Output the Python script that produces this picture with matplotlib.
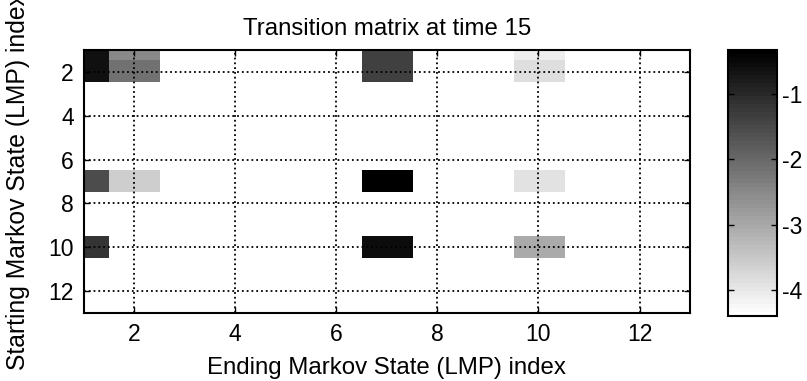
import matplotlib
matplotlib.use('Agg')
import matplotlib.pyplot as plt
import numpy as np

matplotlib.rcParams['font.family'] = 'Liberation Sans'
matplotlib.rcParams['font.size'] = 16.5
matplotlib.rcParams['axes.unicode_minus'] = False

# log10 transition probabilities (non-zero entries only)
start_states = [1, 2, 1, 2, 1, 2, 1, 2, 7, 7, 7, 7, 10, 10, 10]
end_states = [1, 1, 2, 2, 7, 7, 10, 10, 1, 2, 7, 10, 1, 7, 10]
log_prob = [-0.60, -0.60, -2.50, -2.12, -1.41, -1.41, -4.13, -3.84,
            -1.56, -3.60, -0.33, -3.95, -1.22, -0.54, -3.01]
n_states = 12
log_floor = -4.40
x_ticks = [2, 4, 6, 8, 10, 12]
y_ticks = [2, 4, 6, 8, 10, 12]
cbar_ticks = [-4, -3, -2, -1]

P = np.full((n_states, n_states), log_floor)
for r, c, v in zip(start_states, end_states, log_prob):
    P[r - 1, c - 1] = v

fig = plt.figure(figsize=(8.07, 3.81), dpi=100)
ax = fig.add_axes([0.1035, 0.1785, 0.7516, 0.6903])

cmap = plt.get_cmap('gray_r', 64)
im = ax.imshow(P, cmap=cmap, vmin=log_floor, vmax=max(log_prob),
               interpolation='nearest', aspect='auto',
               extent=(0.5, n_states + 0.5, n_states + 0.5, 0.5))
ax.set_xlim(1, 13)
ax.set_ylim(13, 1)
ax.set_xticks(x_ticks)
ax.set_yticks(y_ticks)
ax.grid(True, color='k', linestyle=':', linewidth=1.3)
ax.tick_params(direction='in', top=True, right=True, length=4, width=1,
               pad=7)
for s in ax.spines.values():
    s.set_linewidth(1.5)

ax.set_title('Transition matrix at time 15', fontsize=17.3, pad=11)
ax.set_xlabel('Ending Markov State (LMP) index', fontsize=17.3, labelpad=8)
ax.set_ylabel('Starting Markov State (LMP) index', fontsize=17.8,
              labelpad=13)

cax = fig.add_axes([0.902, 0.1706, 0.0607, 0.698])
cb = fig.colorbar(im, cax=cax)
cb.set_ticks(cbar_ticks)
cb.ax.tick_params(direction='in', left=True, right=True, length=4, width=1,
                  pad=4)
cb.outline.set_linewidth(1.5)

fig.savefig('out.png', dpi=100)
